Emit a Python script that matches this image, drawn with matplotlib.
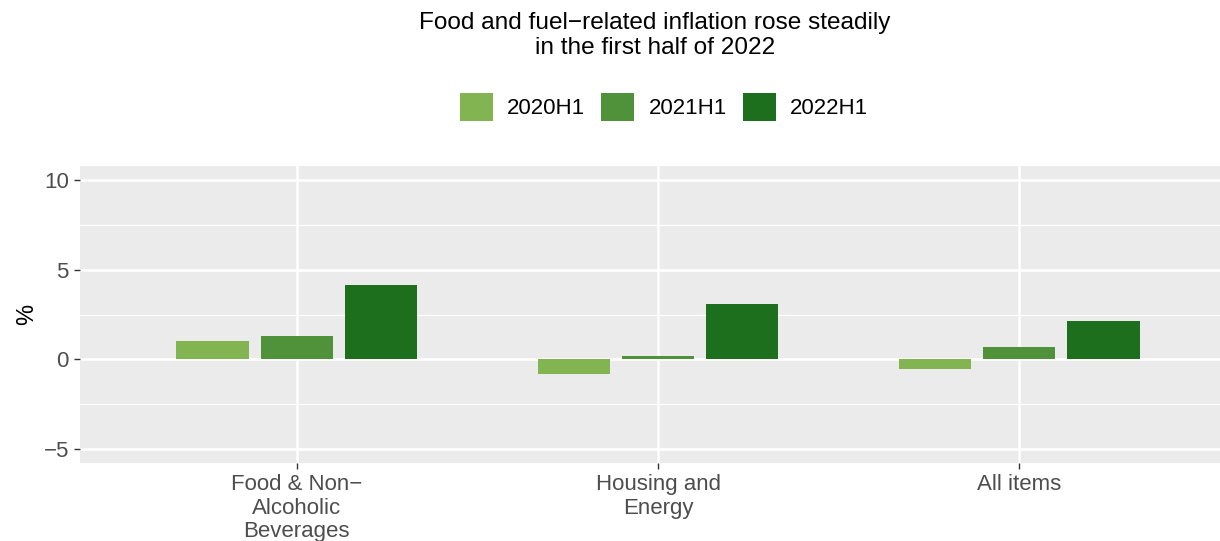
import matplotlib.pyplot as plt
from matplotlib.patches import Patch
import numpy as np

plt.rcParams['font.family'] = ['Liberation Sans', 'DejaVu Sans']

CATEGORIES = ["Food & Non\u2212\nAlcoholic\nBeverages", "Housing and\nEnergy", "All items"]
SERIES = ["2020H1", "2021H1", "2022H1"]
VALUES_2020 = [1.0, -0.84, -0.56]
VALUES_2021 = [1.28, 0.17, 0.67]
VALUES_2022 = [4.13, 3.07, 2.12]
COLORS = ["#83B452", "#4F9239", "#1D6F1E"]

fig = plt.figure(figsize=(12.2, 5.41), dpi=100)
ax = fig.add_axes([80 / 1220, 1 - 463 / 541, 1156 / 1220, 297 / 541])
ax.set_facecolor("#EBEBEB")

x = np.arange(1, len(CATEGORIES) + 1)
offsets = [-0.7 / 3, 0, 0.7 / 3]
for vals, off, col, name in zip([VALUES_2020, VALUES_2021, VALUES_2022], offsets, COLORS, SERIES):
    ax.bar(x + off, vals, width=0.2, color=col, label=name, zorder=3)

ax.set_xlim(0.4, 3.6)
ax.set_ylim(-5.8, 10.8)
ax.set_yticks([-5, 0, 5, 10])
ax.set_yticks([-2.5, 2.5, 7.5], minor=True)
ax.set_xticks(x)
ax.set_xticklabels(CATEGORIES, linespacing=1.15)
ax.grid(which="major", color="white", linewidth=1.8, zorder=1)
ax.grid(which="minor", axis="y", color="white", linewidth=0.9, zorder=1)
ax.set_axisbelow(True)
for s in ax.spines.values():
    s.set_visible(False)
ax.tick_params(axis="both", which="major", length=4, width=1, color="#333333",
               labelsize=16, labelcolor="#4D4D4D", pad=4)
ax.tick_params(axis="both", which="minor", length=0)
ax.set_ylabel("%", fontsize=17, color="black", labelpad=4)

fig.suptitle("Food and fuel\u2212related inflation rose steadily\nin the first half of 2022",
             x=655 / 1220, y=1 - 12 / 541, fontsize=17.6, linespacing=1.17, va="top")

handles = [Patch(facecolor=c, edgecolor="none") for c in COLORS]
fig.legend(handles, SERIES, loc="center", bbox_to_anchor=(664 / 1220, 1 - 107 / 541), ncol=3,
           frameon=False, fontsize=16, handlelength=1.5, handleheight=1.5,
           handletextpad=0.65, columnspacing=0.7)

fig.savefig("out.png", dpi=100)
